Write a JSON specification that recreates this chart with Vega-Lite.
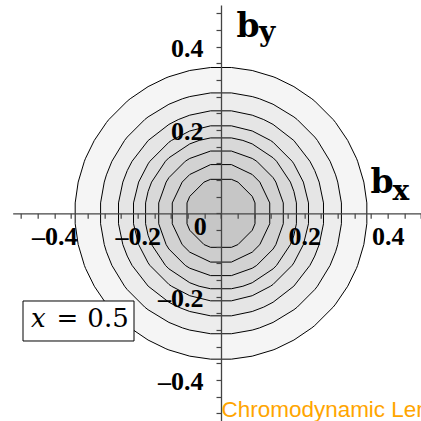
{
  "$schema": "https://vega.github.io/schema/vega-lite/v6.json",
  "width": 408.33,
  "height": 415.84,
  "autosize": {"type": "none"},
  "padding": {"left": 12.67, "top": 5, "right": 0, "bottom": 0},
  "background": "white",
  "config": {"view": {"stroke": null}},
  "datasets": {
    "contours": [
      {"c":8,"x":0.35,"y":0.025},{"c":8,"x":0.3428,"y":0.075},{"c":8,"x":0.3279,"y":0.125},{"c":8,"x":0.325,"y":0.1323},{"c":8,"x":0.3041,"y":0.175},{"c":8,"x":0.275,"y":0.2179},{"c":8,"x":0.2693,"y":0.225},{"c":8,"x":0.225,"y":0.2693},{"c":8,"x":0.2179,"y":0.275},{"c":8,"x":0.175,"y":0.3041},{"c":8,"x":0.1323,"y":0.325},{"c":8,"x":0.125,"y":0.3279},{"c":8,"x":0.075,"y":0.3428},{"c":8,"x":0.025,"y":0.35},
      {"c":8,"x":-0.025,"y":0.35},{"c":8,"x":-0.075,"y":0.3428},{"c":8,"x":-0.125,"y":0.3279},{"c":8,"x":-0.1323,"y":0.325},{"c":8,"x":-0.175,"y":0.3041},{"c":8,"x":-0.2179,"y":0.275},{"c":8,"x":-0.225,"y":0.2693},{"c":8,"x":-0.2693,"y":0.225},{"c":8,"x":-0.275,"y":0.2179},{"c":8,"x":-0.3041,"y":0.175},{"c":8,"x":-0.325,"y":0.1323},{"c":8,"x":-0.3279,"y":0.125},{"c":8,"x":-0.3428,"y":0.075},{"c":8,"x":-0.35,"y":0.025},
      {"c":8,"x":-0.35,"y":-0.025},{"c":8,"x":-0.3428,"y":-0.075},{"c":8,"x":-0.3279,"y":-0.125},{"c":8,"x":-0.325,"y":-0.1323},{"c":8,"x":-0.3041,"y":-0.175},{"c":8,"x":-0.275,"y":-0.2179},{"c":8,"x":-0.2693,"y":-0.225},{"c":8,"x":-0.225,"y":-0.2693},{"c":8,"x":-0.2179,"y":-0.275},{"c":8,"x":-0.175,"y":-0.3041},{"c":8,"x":-0.1323,"y":-0.325},{"c":8,"x":-0.125,"y":-0.3279},{"c":8,"x":-0.075,"y":-0.3428},{"c":8,"x":-0.025,"y":-0.35},
      {"c":8,"x":0.025,"y":-0.35},{"c":8,"x":0.075,"y":-0.3428},{"c":8,"x":0.125,"y":-0.3279},{"c":8,"x":0.1323,"y":-0.325},{"c":8,"x":0.175,"y":-0.3041},{"c":8,"x":0.2179,"y":-0.275},{"c":8,"x":0.225,"y":-0.2693},{"c":8,"x":0.2693,"y":-0.225},{"c":8,"x":0.275,"y":-0.2179},{"c":8,"x":0.3041,"y":-0.175},{"c":8,"x":0.325,"y":-0.1323},{"c":8,"x":0.3279,"y":-0.125},{"c":8,"x":0.3428,"y":-0.075},{"c":8,"x":0.35,"y":-0.025},{"c":8,"x":0.35,"y":0.025},

      {"c":7,"x":0.289,"y":0.025},{"c":7,"x":0.2802,"y":0.075},{"c":7,"x":0.275,"y":0.0923},{"c":7,"x":0.2618,"y":0.125},{"c":7,"x":0.2314,"y":0.175},{"c":7,"x":0.225,"y":0.1831},{"c":7,"x":0.1831,"y":0.225},{"c":7,"x":0.175,"y":0.2314},{"c":7,"x":0.125,"y":0.2618},{"c":7,"x":0.0923,"y":0.275},{"c":7,"x":0.075,"y":0.2802},{"c":7,"x":0.025,"y":0.289},
      {"c":7,"x":-0.025,"y":0.289},{"c":7,"x":-0.075,"y":0.2802},{"c":7,"x":-0.0923,"y":0.275},{"c":7,"x":-0.125,"y":0.2618},{"c":7,"x":-0.175,"y":0.2314},{"c":7,"x":-0.1831,"y":0.225},{"c":7,"x":-0.225,"y":0.1831},{"c":7,"x":-0.2314,"y":0.175},{"c":7,"x":-0.2618,"y":0.125},{"c":7,"x":-0.275,"y":0.0923},{"c":7,"x":-0.2802,"y":0.075},{"c":7,"x":-0.289,"y":0.025},
      {"c":7,"x":-0.289,"y":-0.025},{"c":7,"x":-0.2802,"y":-0.075},{"c":7,"x":-0.275,"y":-0.0923},{"c":7,"x":-0.2618,"y":-0.125},{"c":7,"x":-0.2314,"y":-0.175},{"c":7,"x":-0.225,"y":-0.1831},{"c":7,"x":-0.1831,"y":-0.225},{"c":7,"x":-0.175,"y":-0.2314},{"c":7,"x":-0.125,"y":-0.2618},{"c":7,"x":-0.0923,"y":-0.275},{"c":7,"x":-0.075,"y":-0.2802},{"c":7,"x":-0.025,"y":-0.289},
      {"c":7,"x":0.025,"y":-0.289},{"c":7,"x":0.075,"y":-0.2802},{"c":7,"x":0.0923,"y":-0.275},{"c":7,"x":0.125,"y":-0.2618},{"c":7,"x":0.175,"y":-0.2314},{"c":7,"x":0.1831,"y":-0.225},{"c":7,"x":0.225,"y":-0.1831},{"c":7,"x":0.2314,"y":-0.175},{"c":7,"x":0.2618,"y":-0.125},{"c":7,"x":0.275,"y":-0.0923},{"c":7,"x":0.2802,"y":-0.075},{"c":7,"x":0.289,"y":-0.025},{"c":7,"x":0.289,"y":0.025},

      {"c":6,"x":0.246,"y":0.025},{"c":6,"x":0.2356,"y":0.075},{"c":6,"x":0.225,"y":0.1026},{"c":6,"x":0.2134,"y":0.125},{"c":6,"x":0.1748,"y":0.1748},{"c":6,"x":0.125,"y":0.2134},{"c":6,"x":0.1026,"y":0.225},{"c":6,"x":0.075,"y":0.2356},{"c":6,"x":0.025,"y":0.246},
      {"c":6,"x":-0.025,"y":0.246},{"c":6,"x":-0.075,"y":0.2356},{"c":6,"x":-0.1026,"y":0.225},{"c":6,"x":-0.125,"y":0.2134},{"c":6,"x":-0.1748,"y":0.1748},{"c":6,"x":-0.2134,"y":0.125},{"c":6,"x":-0.225,"y":0.1026},{"c":6,"x":-0.2356,"y":0.075},{"c":6,"x":-0.246,"y":0.025},
      {"c":6,"x":-0.246,"y":-0.025},{"c":6,"x":-0.2356,"y":-0.075},{"c":6,"x":-0.225,"y":-0.1026},{"c":6,"x":-0.2134,"y":-0.125},{"c":6,"x":-0.1748,"y":-0.1748},{"c":6,"x":-0.125,"y":-0.2134},{"c":6,"x":-0.1026,"y":-0.225},{"c":6,"x":-0.075,"y":-0.2356},{"c":6,"x":-0.025,"y":-0.246},
      {"c":6,"x":0.025,"y":-0.246},{"c":6,"x":0.075,"y":-0.2356},{"c":6,"x":0.1026,"y":-0.225},{"c":6,"x":0.125,"y":-0.2134},{"c":6,"x":0.1748,"y":-0.1748},{"c":6,"x":0.2134,"y":-0.125},{"c":6,"x":0.225,"y":-0.1026},{"c":6,"x":0.2356,"y":-0.075},{"c":6,"x":0.246,"y":-0.025},{"c":6,"x":0.246,"y":0.025},

      {"c":5,"x":0.21,"y":0.025},{"c":5,"x":0.1977,"y":0.075},{"c":5,"x":0.175,"y":0.1187},{"c":5,"x":0.1706,"y":0.125},{"c":5,"x":0.125,"y":0.1706},{"c":5,"x":0.1187,"y":0.175},{"c":5,"x":0.075,"y":0.1977},{"c":5,"x":0.025,"y":0.21},
      {"c":5,"x":-0.025,"y":0.21},{"c":5,"x":-0.075,"y":0.1977},{"c":5,"x":-0.1187,"y":0.175},{"c":5,"x":-0.125,"y":0.1706},{"c":5,"x":-0.1706,"y":0.125},{"c":5,"x":-0.175,"y":0.1187},{"c":5,"x":-0.1977,"y":0.075},{"c":5,"x":-0.21,"y":0.025},
      {"c":5,"x":-0.21,"y":-0.025},{"c":5,"x":-0.1977,"y":-0.075},{"c":5,"x":-0.175,"y":-0.1187},{"c":5,"x":-0.1706,"y":-0.125},{"c":5,"x":-0.125,"y":-0.1706},{"c":5,"x":-0.1187,"y":-0.175},{"c":5,"x":-0.075,"y":-0.1977},{"c":5,"x":-0.025,"y":-0.21},
      {"c":5,"x":0.025,"y":-0.21},{"c":5,"x":0.075,"y":-0.1977},{"c":5,"x":0.1187,"y":-0.175},{"c":5,"x":0.125,"y":-0.1706},{"c":5,"x":0.1706,"y":-0.125},{"c":5,"x":0.175,"y":-0.1187},{"c":5,"x":0.1977,"y":-0.075},{"c":5,"x":0.21,"y":-0.025},{"c":5,"x":0.21,"y":0.025},

      {"c":4,"x":0.181,"y":0.025},{"c":4,"x":0.175,"y":0.0525},{"c":4,"x":0.1666,"y":0.075},{"c":4,"x":0.1333,"y":0.125},{"c":4,"x":0.125,"y":0.1333},{"c":4,"x":0.075,"y":0.1666},{"c":4,"x":0.0525,"y":0.175},{"c":4,"x":0.025,"y":0.181},
      {"c":4,"x":-0.025,"y":0.181},{"c":4,"x":-0.0525,"y":0.175},{"c":4,"x":-0.075,"y":0.1666},{"c":4,"x":-0.125,"y":0.1333},{"c":4,"x":-0.1333,"y":0.125},{"c":4,"x":-0.1666,"y":0.075},{"c":4,"x":-0.175,"y":0.0525},{"c":4,"x":-0.181,"y":0.025},
      {"c":4,"x":-0.181,"y":-0.025},{"c":4,"x":-0.175,"y":-0.0525},{"c":4,"x":-0.1666,"y":-0.075},{"c":4,"x":-0.1333,"y":-0.125},{"c":4,"x":-0.125,"y":-0.1333},{"c":4,"x":-0.075,"y":-0.1666},{"c":4,"x":-0.0525,"y":-0.175},{"c":4,"x":-0.025,"y":-0.181},
      {"c":4,"x":0.025,"y":-0.181},{"c":4,"x":0.0525,"y":-0.175},{"c":4,"x":0.075,"y":-0.1666},{"c":4,"x":0.125,"y":-0.1333},{"c":4,"x":0.1333,"y":-0.125},{"c":4,"x":0.1666,"y":-0.075},{"c":4,"x":0.175,"y":-0.0525},{"c":4,"x":0.181,"y":-0.025},{"c":4,"x":0.181,"y":0.025},

      {"c":3,"x":0.1495,"y":0.025},{"c":3,"x":0.1317,"y":0.075},{"c":3,"x":0.125,"y":0.0857},{"c":3,"x":0.0857,"y":0.125},{"c":3,"x":0.075,"y":0.1317},{"c":3,"x":0.025,"y":0.1495},
      {"c":3,"x":-0.025,"y":0.1495},{"c":3,"x":-0.075,"y":0.1317},{"c":3,"x":-0.0857,"y":0.125},{"c":3,"x":-0.125,"y":0.0857},{"c":3,"x":-0.1317,"y":0.075},{"c":3,"x":-0.1495,"y":0.025},
      {"c":3,"x":-0.1495,"y":-0.025},{"c":3,"x":-0.1317,"y":-0.075},{"c":3,"x":-0.125,"y":-0.0857},{"c":3,"x":-0.0857,"y":-0.125},{"c":3,"x":-0.075,"y":-0.1317},{"c":3,"x":-0.025,"y":-0.1495},
      {"c":3,"x":0.025,"y":-0.1495},{"c":3,"x":0.075,"y":-0.1317},{"c":3,"x":0.0857,"y":-0.125},{"c":3,"x":0.125,"y":-0.0857},{"c":3,"x":0.1317,"y":-0.075},{"c":3,"x":0.1495,"y":-0.025},{"c":3,"x":0.1495,"y":0.025},

      {"c":2,"x":0.117,"y":0.025},{"c":2,"x":0.0932,"y":0.075},{"c":2,"x":0.075,"y":0.0932},{"c":2,"x":0.025,"y":0.117},
      {"c":2,"x":-0.025,"y":0.117},{"c":2,"x":-0.075,"y":0.0932},{"c":2,"x":-0.0932,"y":0.075},{"c":2,"x":-0.117,"y":0.025},
      {"c":2,"x":-0.117,"y":-0.025},{"c":2,"x":-0.0932,"y":-0.075},{"c":2,"x":-0.075,"y":-0.0932},{"c":2,"x":-0.025,"y":-0.117},
      {"c":2,"x":0.025,"y":-0.117},{"c":2,"x":0.075,"y":-0.0932},{"c":2,"x":0.0932,"y":-0.075},{"c":2,"x":0.117,"y":-0.025},{"c":2,"x":0.117,"y":0.025},

      {"c":1,"x":0.0816,"y":0.025},{"c":1,"x":0.075,"y":0.0407},{"c":1,"x":0.0407,"y":0.075},{"c":1,"x":0.025,"y":0.0816},
      {"c":1,"x":-0.025,"y":0.0816},{"c":1,"x":-0.0407,"y":0.075},{"c":1,"x":-0.075,"y":0.0407},{"c":1,"x":-0.0816,"y":0.025},
      {"c":1,"x":-0.0816,"y":-0.025},{"c":1,"x":-0.075,"y":-0.0407},{"c":1,"x":-0.0407,"y":-0.075},{"c":1,"x":-0.025,"y":-0.0816},
      {"c":1,"x":0.025,"y":-0.0816},{"c":1,"x":0.0407,"y":-0.075},{"c":1,"x":0.075,"y":-0.0407},{"c":1,"x":0.0816,"y":-0.025},{"c":1,"x":0.0816,"y":0.025}
    ]
  },
  "encoding": {
    "x": {
      "field": "x",
      "type": "quantitative",
      "scale": {"domain": [-0.5, 0.48], "nice": false, "zero": false},
      "axis": {
        "orient": "bottom",
        "offset": -207.51,
        "zindex": 1,
        "title": null,
        "grid": false,
        "values": [-0.48,-0.44,-0.4,-0.36,-0.32,-0.28,-0.24,-0.2,-0.16,-0.12,-0.08,-0.04,0,0.04,0.08,0.12,0.16,0.2,0.24,0.28,0.32,0.36,0.4,0.44,0.48],
        "domainColor": "#444444",
        "domainWidth": 1.3,
        "tickColor": "#444444",
        "tickWidth": 1.2,
        "tickSize": 5,
        "labelExpr": "abs(datum.value) > 0.1 && abs(datum.value * 5 - round(datum.value * 5)) < 0.01 ? (datum.value < 0 ? '–' : '') + format(abs(datum.value), '.1f') : ''",
        "labelFont": "Liberation Serif",
        "labelFontWeight": "bold",
        "labelFontSize": 26,
        "labelColor": "black",
        "labelPadding": 5,
        "labelOverlap": false,
        "labelBound": false,
        "labelFlush": false
      }
    },
    "y": {
      "field": "y",
      "type": "quantitative",
      "scale": {"domain": [-0.498, 0.5], "nice": false, "zero": false},
      "axis": {
        "orient": "left",
        "offset": -208.33,
        "zindex": 1,
        "title": null,
        "grid": false,
        "values": [-0.48,-0.44,-0.4,-0.36,-0.32,-0.28,-0.24,-0.2,-0.16,-0.12,-0.08,-0.04,0,0.04,0.08,0.12,0.16,0.2,0.24,0.28,0.32,0.36,0.4,0.44,0.48],
        "domainColor": "#444444",
        "domainWidth": 1.3,
        "tickColor": "#444444",
        "tickWidth": 1.2,
        "tickSize": 5,
        "labelExpr": "abs(datum.value) > 0.1 && abs(datum.value * 5 - round(datum.value * 5)) < 0.01 ? (datum.value < 0 ? '–' : '') + format(abs(datum.value), '.1f') : ''",
        "labelFont": "Liberation Serif",
        "labelFontWeight": "bold",
        "labelFontSize": 26,
        "labelColor": "black",
        "labelPadding": 13,
        "labelOffset": 2,
        "labelOverlap": false,
        "labelBound": false,
        "labelFlush": false
      }
    }
  },
  "layer": [
    {
      "data": {"name": "contours"},
      "mark": {"type": "line", "stroke": "black", "strokeWidth": 1, "strokeJoin": "miter"},
      "encoding": {
        "fill": {
          "field": "c",
          "type": "ordinal",
          "scale": {"domain": [8, 7, 6, 5, 4, 3, 2, 1], "range": ["#f5f5f5", "#ededed", "#e5e5e5", "#dedede", "#d8d8d8", "#d2d2d2", "#cdcdcd", "#c6c6c6"]},
          "legend": null
        },
        "order": {"value": null}
      }
    },
    {
      "data": {"values": [{"x": -0.4752, "x2": -0.2088, "y": -0.2104, "y2": -0.3064}]},
      "mark": {"type": "rect", "fill": "white", "stroke": "black", "strokeWidth": 1},
      "encoding": {"x2": {"field": "x2"}, "y2": {"field": "y2"}}
    },
    {
      "data": {"values": [{"t": "0", "x": -0.05, "y": -0.034}]},
      "mark": {"type": "text", "font": "Liberation Serif", "fontWeight": "bold", "fontSize": 26, "align": "center", "baseline": "middle", "color": "black"},
      "encoding": {"text": {"field": "t"}}
    },
    {
      "data": {"values": [{"t": "b", "x": 0.037, "y": 0.424}, {"t": "b", "x": 0.3588, "y": 0.048}]},
      "mark": {"type": "text", "font": "DejaVu Serif", "fontWeight": "bold", "fontSize": 33, "align": "left", "baseline": "alphabetic", "color": "black"},
      "encoding": {"text": {"field": "t"}}
    },
    {
      "data": {"values": [{"t": "y", "x": 0.0912, "y": 0.4124}, {"t": "x", "x": 0.4116, "y": 0.032}]},
      "mark": {"type": "text", "font": "DejaVu Serif", "fontWeight": "bold", "fontSize": 28, "align": "left", "baseline": "alphabetic", "color": "black"},
      "encoding": {"text": {"field": "t"}}
    },
    {
      "data": {"values": [{"t": "x", "x": -0.4385, "y": -0.2721}]},
      "mark": {"type": "text", "font": "DejaVu Serif", "fontStyle": "italic", "fontSize": 26, "align": "center", "baseline": "alphabetic", "color": "black"},
      "encoding": {"text": {"field": "t"}}
    },
    {
      "data": {"values": [{"t": "=", "x": -0.3684, "y": -0.2721}, {"t": "0.5", "x": -0.2712, "y": -0.2721}]},
      "mark": {"type": "text", "font": "DejaVu Serif", "fontSize": 26, "align": "center", "baseline": "alphabetic", "color": "black"},
      "encoding": {"text": {"field": "t"}}
    },
    {
      "data": {"values": [{"t": "Chromodynamic Lensing", "x": 0.001, "y": -0.488}]},
      "mark": {"type": "text", "font": "Liberation Sans", "fontSize": 22.5, "align": "left", "baseline": "alphabetic", "color": "#ffa500"},
      "encoding": {"text": {"field": "t"}}
    }
  ]
}
